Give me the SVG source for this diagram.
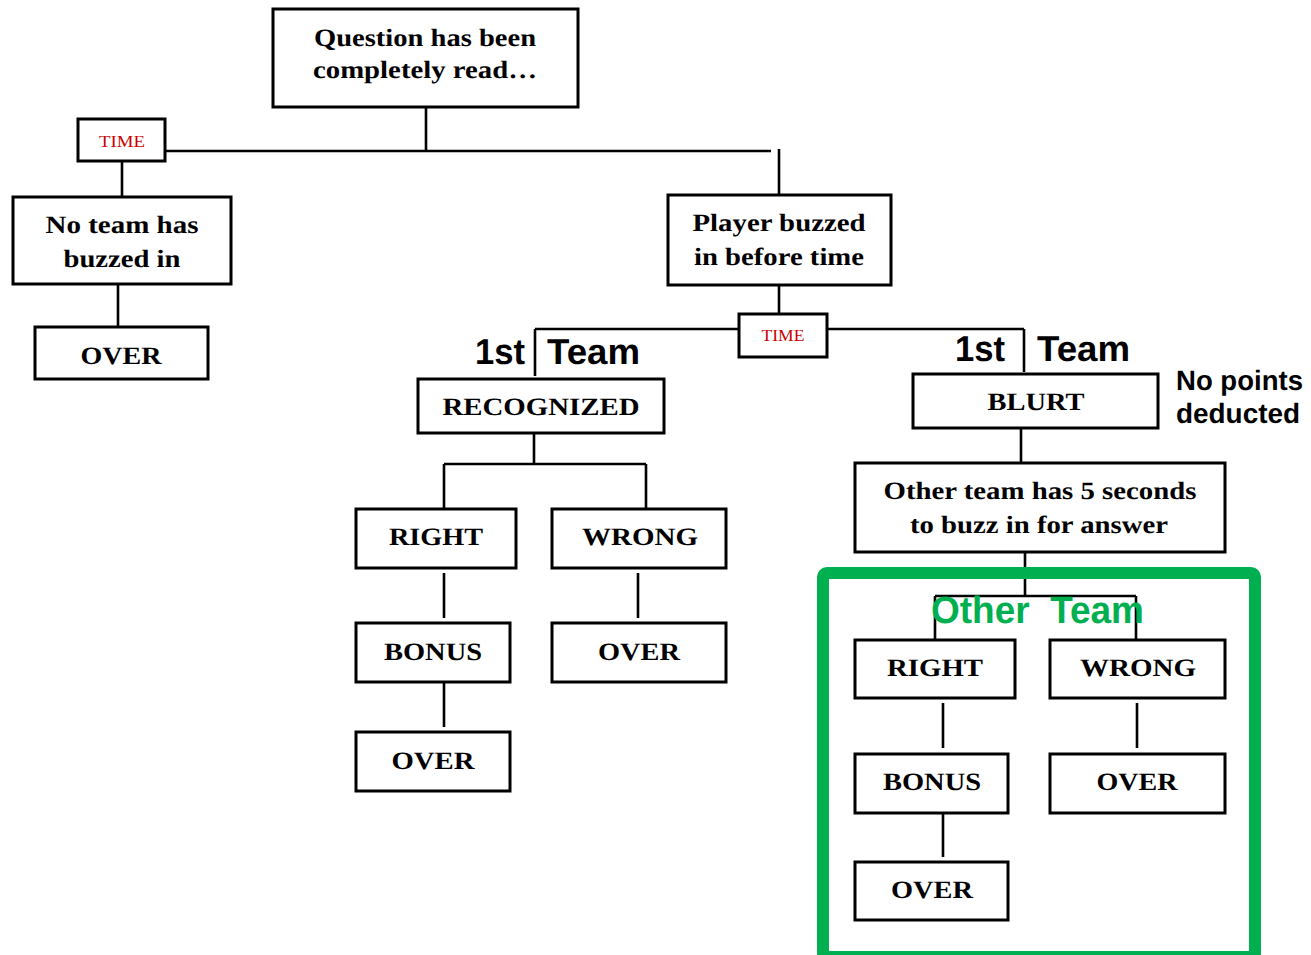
<svg xmlns="http://www.w3.org/2000/svg" width="1311" height="955" viewBox="0 0 1311 955">
<style>
.box{fill:#fff;stroke:#000;stroke-width:3}
.ln{stroke:#000;stroke-width:2.6;fill:none}
text{text-rendering:geometricPrecision}
.t{font-family:"Liberation Serif","Times New Roman",serif;font-weight:bold;font-size:25px;fill:#000;text-anchor:middle}
.tm{font-family:"Liberation Serif","Times New Roman",serif;font-size:17px;fill:#cc0000;text-anchor:middle}
.s{font-family:"Liberation Sans",Arial,sans-serif;font-weight:bold;fill:#000}
</style>
<rect width="1311" height="955" fill="#fff"/>
<g id="connectors">
<path class="ln" d="M426 107V151M165 151H771M779 149V195"/>
<path class="ln" d="M122 161V197M118 284V327"/>
<path class="ln" d="M779 285V314M535 329H739M827 329H1024M535 329V376M1024 329V372"/>
<path class="ln" d="M534 433V464M444 464H646M444 464V509M646 464V509M444 573V618M638 573V618M444 682V727"/>
<path class="ln" d="M1021 423V463M1025 552V596M935 596H1136M935 596V640M1136 596V640M943 703V748M1137 703V748M943 813V857"/>
</g>
<g id="green-frame"><rect x="823" y="573" width="432" height="384" rx="4" fill="none" stroke="#00b050" stroke-width="12"/></g>
<g id="n-question"><rect class="box" x="273" y="9" width="305" height="98"/><text class="t" x="425" y="46" font-size="26" textLength="222" lengthAdjust="spacingAndGlyphs">Question has been</text><text class="t" x="425" y="78" font-size="26" textLength="224" lengthAdjust="spacingAndGlyphs">completely read…</text></g>
<g id="n-time1"><rect class="box" x="78" y="119" width="87" height="42"/><text class="tm" x="122" y="147" textLength="46" lengthAdjust="spacingAndGlyphs">TIME</text></g>
<g id="n-noteam"><rect class="box" x="13" y="197" width="218" height="87"/><text class="t" x="122" y="233" font-size="26" textLength="153" lengthAdjust="spacingAndGlyphs">No team has</text><text class="t" x="122" y="267" font-size="26" textLength="117" lengthAdjust="spacingAndGlyphs">buzzed in</text></g>
<g id="n-over0"><rect class="box" x="35" y="327" width="173" height="52"/><text class="t" x="121" y="364" textLength="81" lengthAdjust="spacingAndGlyphs">OVER</text></g>
<g id="n-player"><rect class="box" x="668" y="195" width="223" height="90"/><text class="t" x="779" y="231" font-size="26" textLength="173" lengthAdjust="spacingAndGlyphs">Player buzzed</text><text class="t" x="779" y="265" font-size="26" textLength="170" lengthAdjust="spacingAndGlyphs">in before time</text></g>
<g id="n-time2"><rect class="box" x="739" y="314" width="88" height="43"/><text class="tm" x="783" y="341" textLength="43" lengthAdjust="spacingAndGlyphs">TIME</text></g>
<g id="l-team1"><text class="s" x="475" y="364" font-size="36" textLength="50" lengthAdjust="spacingAndGlyphs">1st</text><text class="s" x="547" y="364" font-size="36" textLength="93" lengthAdjust="spacingAndGlyphs">Team</text></g>
<g id="n-recognized"><rect class="box" x="418" y="379" width="246" height="54"/><text class="t" x="541" y="415" textLength="197" lengthAdjust="spacingAndGlyphs">RECOGNIZED</text></g>
<g id="n-right1"><rect class="box" x="356" y="509" width="160" height="59"/><text class="t" x="436" y="545" textLength="94" lengthAdjust="spacingAndGlyphs">RIGHT</text></g>
<g id="n-wrong1"><rect class="box" x="552" y="509" width="174" height="59"/><text class="t" x="640" y="545" textLength="116" lengthAdjust="spacingAndGlyphs">WRONG</text></g>
<g id="n-bonus1"><rect class="box" x="356" y="623" width="154" height="59"/><text class="t" x="433" y="660" textLength="98" lengthAdjust="spacingAndGlyphs">BONUS</text></g>
<g id="n-over1"><rect class="box" x="552" y="623" width="174" height="59"/><text class="t" x="639" y="660" textLength="82" lengthAdjust="spacingAndGlyphs">OVER</text></g>
<g id="n-over2"><rect class="box" x="356" y="732" width="154" height="59"/><text class="t" x="433" y="769" textLength="83" lengthAdjust="spacingAndGlyphs">OVER</text></g>
<g id="l-team2"><text class="s" x="955" y="361" font-size="36" textLength="50" lengthAdjust="spacingAndGlyphs">1st</text><text class="s" x="1037" y="361" font-size="36" textLength="93" lengthAdjust="spacingAndGlyphs">Team</text></g>
<g id="n-blurt"><rect class="box" x="913" y="374" width="245" height="54"/><text class="t" x="1036" y="410" textLength="97" lengthAdjust="spacingAndGlyphs">BLURT</text></g>
<g id="l-nopoints"><text class="s" x="1176" y="390" font-size="28" textLength="127" lengthAdjust="spacingAndGlyphs">No points</text><text class="s" x="1176" y="423" font-size="28" textLength="124" lengthAdjust="spacingAndGlyphs">deducted</text></g>
<g id="n-otherteam"><rect class="box" x="855" y="463" width="370" height="89"/><text class="t" x="1040" y="499" font-size="26" textLength="313" lengthAdjust="spacingAndGlyphs">Other team has 5 seconds</text><text class="t" x="1039" y="533" font-size="26" textLength="258" lengthAdjust="spacingAndGlyphs">to buzz in for answer</text></g>
<g id="l-other"><text class="s" x="931" y="623" font-size="38" style="fill:#00b050" textLength="213" lengthAdjust="spacingAndGlyphs" xml:space="preserve">Other  Team</text></g>
<g id="n-right2"><rect class="box" x="855" y="640" width="160" height="58"/><text class="t" x="935" y="676" textLength="96" lengthAdjust="spacingAndGlyphs">RIGHT</text></g>
<g id="n-wrong2"><rect class="box" x="1050" y="640" width="175" height="58"/><text class="t" x="1138" y="676" textLength="116" lengthAdjust="spacingAndGlyphs">WRONG</text></g>
<g id="n-bonus2"><rect class="box" x="855" y="754" width="153" height="59"/><text class="t" x="932" y="790" textLength="98" lengthAdjust="spacingAndGlyphs">BONUS</text></g>
<g id="n-over3"><rect class="box" x="1050" y="754" width="175" height="59"/><text class="t" x="1137" y="790" textLength="81" lengthAdjust="spacingAndGlyphs">OVER</text></g>
<g id="n-over4"><rect class="box" x="855" y="862" width="153" height="58"/><text class="t" x="932" y="898" textLength="82" lengthAdjust="spacingAndGlyphs">OVER</text></g>
</svg>
